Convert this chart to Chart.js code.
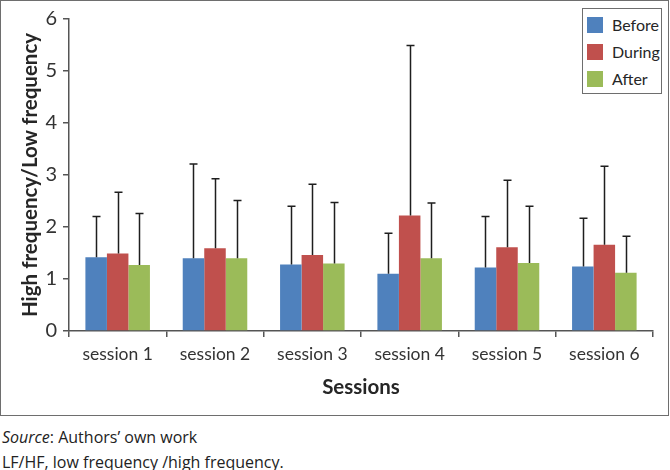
<!DOCTYPE html>
<html>
<head>
<meta charset="utf-8">
<script src="https://cdn.jsdelivr.net/npm/chart.js@4/dist/chart.umd.min.js"></script>
<style>
  html, body { margin: 0; padding: 0; background: #fff; }
  #wrap { position: relative; width: 670px; height: 470px; font-family: Lato, "Open Sans", sans-serif; }
  #frame { position: absolute; left: 0; top: 0; width: 667px; height: 414px; border: 1.5px solid #6e6e6e; }
  #c { position: absolute; left: 0; top: 0; }
  #legend { position: absolute; left: 582px; top: 8px; width: 78px; height: 84px; border: 1.2px solid #6e6e6e; background: #fff; }
  .li { position: absolute; left: 4px; height: 16px; font-size: 16px; color: #262626; white-space: nowrap; }
  .li span.sw { position: absolute; left: 0; top: 0; width: 16px; height: 16px; }
  .li span.tx { position: absolute; left: 25px; top: -2px; line-height: 20px; }
  .note { position: absolute; left: 2px; font-size: 16px; color: #222; font-family: "Open Sans", Lato, sans-serif; white-space: nowrap; }
</style>
</head>
<body>
<div id="wrap">
  <canvas id="c" width="670" height="416"></canvas>
  <div id="frame"></div>
  <div id="legend"></div>
  <div class="note" style="top:426px"><i>Source</i>: Authors’ own work</div>
  <div class="note" style="top:451px">LF/HF, low frequency /high frequency.</div>
</div>
<script>
const categories = ['session 1', 'session 2', 'session 3', 'session 4', 'session 5', 'session 6'];
const seriesNames = ['Before', 'During', 'After'];
const before = [1.42, 1.40, 1.28, 1.10, 1.22, 1.24];
const during = [1.49, 1.59, 1.46, 2.22, 1.61, 1.66];
const after  = [1.27, 1.40, 1.30, 1.40, 1.31, 1.12];
const beforeUpper = [2.20, 3.21, 2.40, 1.88, 2.20, 2.17];
const duringUpper = [2.67, 2.93, 2.82, 5.49, 2.90, 3.17];
const afterUpper  = [2.26, 2.51, 2.47, 2.46, 2.40, 1.82];
const yMin = 0, yMax = 6, yStep = 1;

const colors = ['#4F81BD', '#C0504D', '#9BBB59'];
const values = [before, during, after];
const uppers = [beforeUpper, duringUpper, afterUpper];

const errorBars = {
  id: 'errorBars',
  afterDatasetsDraw(chart) {
    const ctx = chart.ctx;
    const ys = chart.scales.y;
    ctx.save();
    ctx.strokeStyle = '#1e1e1e';
    ctx.lineWidth = 1.5;
    chart.data.datasets.forEach((ds, di) => {
      const meta = chart.getDatasetMeta(di);
      meta.data.forEach((bar, i) => {
        const up = ds.upper[i];
        const yTop = ys.getPixelForValue(up);
        const x = Math.round(bar.x) + 0.5;
        ctx.beginPath();
        ctx.moveTo(x, bar.y);
        ctx.lineTo(x, yTop);
        ctx.moveTo(x - 4, yTop);
        ctx.lineTo(x + 4, yTop);
        ctx.stroke();
      });
    });
    ctx.restore();
  }
};

const chart = new Chart(document.getElementById('c'), {
  type: 'bar',
  data: {
    labels: categories,
    datasets: seriesNames.map((n, i) => ({
      label: n,
      data: values[i],
      upper: uppers[i],
      backgroundColor: colors[i],
      borderWidth: 0,
      categoryPercentage: 0.663,
      barPercentage: 1.0
    }))
  },
  options: {
    responsive: false,
    animation: false,
    layout: { padding: { left: 18, right: 17, top: 19, bottom: 15 } },
    plugins: { legend: { display: false }, tooltip: { enabled: false } },
    scales: {
      x: {
        grid: { display: true, drawOnChartArea: false, drawTicks: true, tickLength: 6, color: '#555', lineWidth: 1.5 },
        border: { display: true, color: '#555', width: 1.5 },
        ticks: { color: '#333', font: { family: 'Lato', size: 17.5 }, padding: 7, maxRotation: 0 },
        title: { display: true, text: 'Sessions', color: '#262626', font: { family: 'Lato', size: 20.5, weight: 'bold' }, padding: { top: 0, bottom: 1 } },
        afterFit(s) { s.height = 70; }
      },
      y: {
        min: yMin, max: yMax,
        grid: { display: true, drawOnChartArea: false, drawTicks: true, tickLength: 6, color: '#555', lineWidth: 1.5 },
        border: { display: true, color: '#555', width: 1.5 },
        ticks: { stepSize: yStep, color: '#333', font: { family: 'Lato', size: 20 }, padding: 6 },
        title: { display: true, text: 'High frequency/Low frequency', color: '#262626', font: { family: 'Lato', size: 20.5, weight: 'bold' }, padding: { top: 0, bottom: 0 } },
        afterFit(s) { s.width = 51; }
      }
    }
  },
  plugins: [errorBars]
});

// HTML legend from the chart's datasets
const leg = document.getElementById('legend');
chart.data.datasets.forEach((ds, i) => {
  const d = document.createElement('div');
  d.className = 'li';
  d.style.top = (8 + i * 27) + 'px';
  d.innerHTML = '<span class="sw" style="background:' + ds.backgroundColor + '"></span><span class="tx">' + ds.label + '</span>';
  leg.appendChild(d);
});
</script>
</body>
</html>
